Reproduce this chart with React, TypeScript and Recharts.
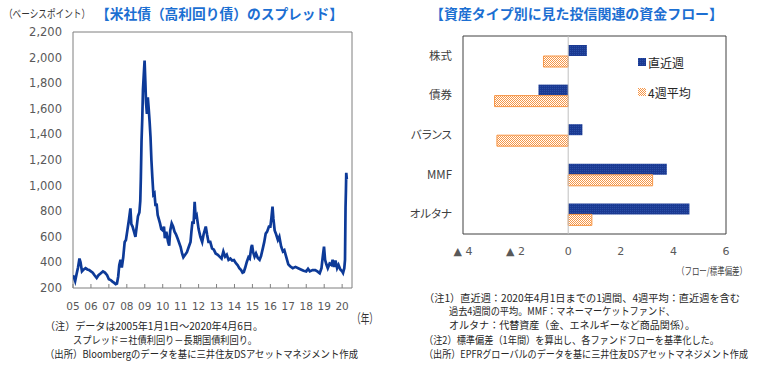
import React from 'react';
import { LineChart, Line, XAxis, YAxis, ReferenceArea, BarChart, Bar, ReferenceLine, Legend } from 'recharts';

// ---- Left chart: US high-yield corporate bond spread (bp) ----
const spreadDates = [
  2005.00, 2005.06, 2005.12, 2005.20, 2005.28, 2005.36, 2005.42, 2005.50, 2005.60, 2005.70, 2005.80, 2005.90,
  2006.00, 2006.10, 2006.20, 2006.32, 2006.42, 2006.55, 2006.67, 2006.78, 2006.90,
  2007.00, 2007.10, 2007.20, 2007.30, 2007.38, 2007.45, 2007.52, 2007.58, 2007.65, 2007.72, 2007.80, 2007.88, 2007.95,
  2008.03, 2008.12, 2008.20, 2008.25, 2008.32, 2008.40, 2008.48, 2008.55, 2008.62, 2008.70, 2008.75, 2008.78, 2008.82, 2008.86, 2008.90, 2008.95, 2008.99,
  2009.03, 2009.07, 2009.12, 2009.17, 2009.22, 2009.27, 2009.32, 2009.37, 2009.42, 2009.48, 2009.54, 2009.60, 2009.66, 2009.72, 2009.78, 2009.85, 2009.92,
  2010.00, 2010.07, 2010.12, 2010.20, 2010.30, 2010.36, 2010.42, 2010.50, 2010.58, 2010.66, 2010.74, 2010.82, 2010.90,
  2011.00, 2011.08, 2011.15, 2011.25, 2011.35, 2011.45, 2011.55, 2011.60, 2011.66, 2011.72, 2011.78, 2011.84, 2011.90,
  2012.00, 2012.10, 2012.20, 2012.28, 2012.40, 2012.47, 2012.55, 2012.65, 2012.75, 2012.85, 2012.95,
  2013.07, 2013.17, 2013.28, 2013.38, 2013.48, 2013.57, 2013.67, 2013.77, 2013.87, 2013.97,
  2014.07, 2014.17, 2014.27, 2014.37, 2014.45, 2014.52, 2014.60, 2014.69, 2014.78, 2014.85, 2014.94, 2014.98,
  2015.04, 2015.12, 2015.20, 2015.30, 2015.40, 2015.48, 2015.58, 2015.66, 2015.74, 2015.82, 2015.92,
  2016.00, 2016.06, 2016.12, 2016.17, 2016.24, 2016.32, 2016.42, 2016.50, 2016.60, 2016.70, 2016.78, 2016.88,
  2017.00, 2017.10, 2017.25, 2017.40, 2017.55, 2017.70, 2017.85,
  2018.00, 2018.10, 2018.20, 2018.35, 2018.50, 2018.62, 2018.75, 2018.85, 2018.92, 2018.99,
  2019.05, 2019.12, 2019.20, 2019.30, 2019.40, 2019.47, 2019.55, 2019.63, 2019.72, 2019.80, 2019.90,
  2020.00, 2020.05, 2020.12, 2020.16, 2020.19, 2020.21, 2020.23, 2020.26,
];
const spreadValues = [
  300, 280, 255, 310, 360, 430, 400, 330, 345, 355, 345, 340,
  330, 320, 300, 278, 300, 315, 330, 320, 300,
  268, 262, 250, 240, 230, 235, 290, 380, 420, 360, 440, 560, 575,
  650, 735, 822, 700, 680, 640, 600, 680, 760, 790, 880, 1050, 1350, 1520, 1750, 1880, 1976,
  1820, 1650, 1560, 1690, 1600, 1500, 1380, 1200, 1070, 930, 940, 840, 860, 770, 740, 705, 660,
  650, 680, 590, 640, 560, 530, 650, 705, 680, 640, 620, 590, 560,
  520, 470, 440, 460, 480, 520, 560, 640, 720, 700, 874, 740, 760,
  660, 600, 560, 620, 680, 620, 560, 560, 510, 500, 470,
  460, 445, 430, 485, 445, 460, 420, 430, 415, 418,
  395, 380, 355, 340, 320, 325, 360, 405, 440, 430, 520, 536,
  480, 445, 470, 435, 420, 450, 510, 560, 625, 640, 680,
  680, 750, 835, 740, 650, 620, 575, 600, 525, 485, 495, 445,
  385, 370, 355, 365, 355, 345, 335,
  330, 350, 330, 340, 340, 330, 315, 355, 445, 523,
  420, 385, 355, 390, 380, 420, 365, 415, 355, 380, 345,
  330, 318, 355, 420, 830, 950, 1100, 1050,
];
const spreadTicks = [200, 400, 600, 800, 1000, 1200, 1400, 1600, 1800, 2000, 2200];
const yearTicks = [2005, 2006, 2007, 2008, 2009, 2010, 2011, 2012, 2013, 2014, 2015, 2016, 2017, 2018, 2019, 2020];

// ---- Right chart: fund flows by asset type (flow / std dev) ----
const assetCategories = ['株式', '債券', 'バランス', 'MMF', 'オルタナ'];
const seriesNames = ['直近週', '4週平均'];
const recentWeek = [0.71, -1.13, 0.54, 3.75, 4.61];
const fourWeekAvg = [-0.94, -2.8, -2.71, 3.21, 0.9];
const flowTicks = [-4, -2, 0, 2, 4, 6];

const spreadData = spreadDates.map((d, i) => ({ date: d, spread: spreadValues[i] }));
const flowData = assetCategories.map((c, i) => ({ name: c, recent: recentWeek[i], avg4: fourWeekAvg[i] }));

const JP = '"Noto Sans CJK JP", sans-serif';
const NUM = '"DejaVu Sans", sans-serif';
const TITLE_BLUE = '#1c6fd2';

const YearTick = (props: any) => {
  const { x, y, payload } = props;
  const label = String(payload.value % 100).padStart(2, '0');
  return (
    <g>
      <line x1={x} x2={x} y1={y - 4} y2={y} stroke="#808080" strokeWidth={1} />
      <text x={x} y={y + 18} textAnchor="middle" dominantBaseline="central" fill="#595959" fontSize={10.5} fontFamily={NUM}>
        {label}
      </text>
    </g>
  );
};

const FlowLegend = (props: any) => {
  const items = [...(props.payload || [])].sort(
    (a: any, b: any) => seriesNames.indexOf(a.value) - seriesNames.indexOf(b.value)
  );
  return (
    <div style={{ fontFamily: JP, fontSize: 12, color: '#262626' }}>
      {items.map((e: any, i: number) => (
        <div key={i} style={{ display: 'flex', alignItems: 'center', height: 16, marginBottom: 14 }}>
          <svg width={8} height={8} style={{ display: 'block' }}>
            <rect x={0} y={0} width={8} height={8} fill={e.color} />
          </svg>
          <span style={{ marginLeft: 2, whiteSpace: 'nowrap' }}>{e.value}</span>
        </div>
      ))}
    </div>
  );
};

type Note = { x: number; cy: number; w: number; s: number; t: string; color?: string; bold?: boolean };
const notes: Note[] = [
  { x: 4, cy: 14, w: 86, s: 11, t: '（ベーシスポイント）', color: '#333' },
  { x: 96, cy: 14, w: 247, s: 14, t: '【米社債（高利回り債）のスプレッド】', color: TITLE_BLUE, bold: true },
  { x: 430, cy: 14, w: 293, s: 14, t: '【資産タイプ別に見た投信関連の資金フロー】', color: TITLE_BLUE, bold: true },
  { x: 352, cy: 318, w: 26, s: 13, t: '（年）', color: '#333' },
  { x: 45, cy: 326, w: 218, s: 10.5, t: '（注）データは2005年1月1日～2020年4月6日。' },
  { x: 73, cy: 340, w: 184, s: 10.5, t: 'スプレッド＝社債利回り－長期国債利回り。' },
  { x: 45, cy: 354, w: 313, s: 10.5, t: '（出所）Bloombergのデータを基に三井住友DSアセットマネジメント作成' },
  { x: 677, cy: 271, w: 70, s: 10, t: '（フロー/標準偏差）', color: '#404040' },
  { x: 424, cy: 298, w: 316, s: 10.5, t: '（注1）直近週：2020年4月1日までの1週間、4週平均：直近週を含む' },
  { x: 449, cy: 311, w: 226, s: 10.5, t: '過去4週間の平均。MMF：マネーマーケットファンド、' },
  { x: 449, cy: 325, w: 246, s: 10.5, t: 'オルタナ：代替資産（金、エネルギーなど商品関係）。' },
  { x: 424, cy: 340, w: 295, s: 10.5, t: '（注2）標準偏差（1年間）を算出し、各ファンドフローを基準化した。' },
  { x: 424, cy: 354, w: 324, s: 10.5, t: '（出所）EPFRグローバルのデータを基に三井住友DSアセットマネジメント作成' },
];

export default function App() {
  return (
    <div style={{ position: 'absolute', left: 0, top: 0, width: 762, height: 367, background: '#fff', overflow: 'hidden' }}>
      {/* Left chart */}
      <div style={{ position: 'absolute', left: 0, top: 0 }}>
        <LineChart width={380} height={320} data={spreadData} margin={{ top: 32, right: 28, bottom: 2, left: 0 }}>
          <XAxis
            type="number"
            dataKey="date"
            domain={[2005, 2020.55]}
            ticks={yearTicks}
            interval={0}
            tick={(p: any) => <YearTick {...p} />}
            tickLine={false}
            axisLine={false}
            tickSize={0}
            tickMargin={0}
            height={30}
            allowDataOverflow
          />
          <YAxis
            type="number"
            domain={[200, 2200]}
            ticks={spreadTicks}
            interval={0}
            tickFormatter={(v: number) => v.toLocaleString('en-US')}
            tick={{ fill: '#595959', fontSize: 11.5, fontFamily: NUM }}
            tickLine={false}
            axisLine={false}
            tickSize={0}
            tickMargin={11}
            width={73}
            allowDataOverflow
          />
          <ReferenceArea x1={2005} x2={2020.55} y1={200} y2={2200} fill="none" stroke="#7f7f7f" strokeWidth={1} />
          <Line type="linear" dataKey="spread" stroke="#0d3a98" strokeWidth={2.7} dot={false} isAnimationActive={false} />
        </LineChart>
      </div>

      {/* Right chart */}
      <div style={{ position: 'absolute', left: 380, top: 0 }}>
        <BarChart
          width={382}
          height={290}
          data={flowData}
          layout="vertical"
          margin={{ top: 36, right: 36, bottom: 36, left: 0 }}
          barGap={0}
        >
          <defs>
            <pattern id="navyDots" width="2" height="2" patternUnits="userSpaceOnUse">
              <rect width="2" height="2" fill="#1b3a92" />
              <rect width="1" height="1" fill="#2b4fa8" />
            </pattern>
            <pattern id="orangeCheck" width="2" height="2" patternUnits="userSpaceOnUse">
              <rect width="2" height="2" fill="#ffffff" />
              <rect width="1" height="1" fill="#f79646" />
              <rect x="1" y="1" width="1" height="1" fill="#f79646" />
            </pattern>
          </defs>
          <XAxis
            type="number"
            domain={[-4, 6]}
            ticks={flowTicks}
            interval={0}
            tickFormatter={(v: number) => (v < 0 ? `▲ ${Math.abs(v)}` : String(v))}
            tick={{ fill: '#595959', fontSize: 11, fontFamily: NUM }}
            tickLine={false}
            axisLine={false}
            tickSize={0}
            tickMargin={13}
            height={20}
          />
          <YAxis
            type="category"
            dataKey="name"
            interval={0}
            tick={{ fill: '#404040', fontSize: 11.5, fontFamily: JP, style: { fontFeatureSettings: '"palt"' } }}
            tickLine={false}
            axisLine={false}
            tickSize={0}
            tickMargin={11}
            width={83}
          />
          <ReferenceArea x1={-4} x2={6} fill="none" stroke="#404040" strokeWidth={1} />
          <ReferenceLine x={0} stroke="#bfbfbf" strokeWidth={1} />
          <Legend
            layout="vertical"
            align="center"
            verticalAlign="middle"
            content={(p: any) => <FlowLegend {...p} />}
            wrapperStyle={{ position: 'absolute', left: 258, top: 54, width: 'auto', height: 'auto' }}
          />
          <Bar dataKey="recent" name={seriesNames[0]} fill="url(#navyDots)" barSize={11} isAnimationActive={false} />
          <Bar dataKey="avg4" name={seriesNames[1]} fill="url(#orangeCheck)" stroke="#f79646" strokeWidth={1} barSize={11} isAnimationActive={false} />
        </BarChart>
      </div>

      {/* Titles, units and footnotes */}
      <svg width={762} height={367} style={{ position: 'absolute', left: 0, top: 0, pointerEvents: 'none' }}>
        {notes.map((n, i) => (
          <text
            key={i}
            x={n.x}
            y={n.cy + n.s * 0.36}
            fontSize={n.s}
            fontFamily={JP}
            fontWeight={n.bold ? 700 : 400}
            fill={n.color || '#262626'}
            textLength={n.w}
            lengthAdjust="spacingAndGlyphs"
          >
            {n.t}
          </text>
        ))}
      </svg>
    </div>
  );
}
